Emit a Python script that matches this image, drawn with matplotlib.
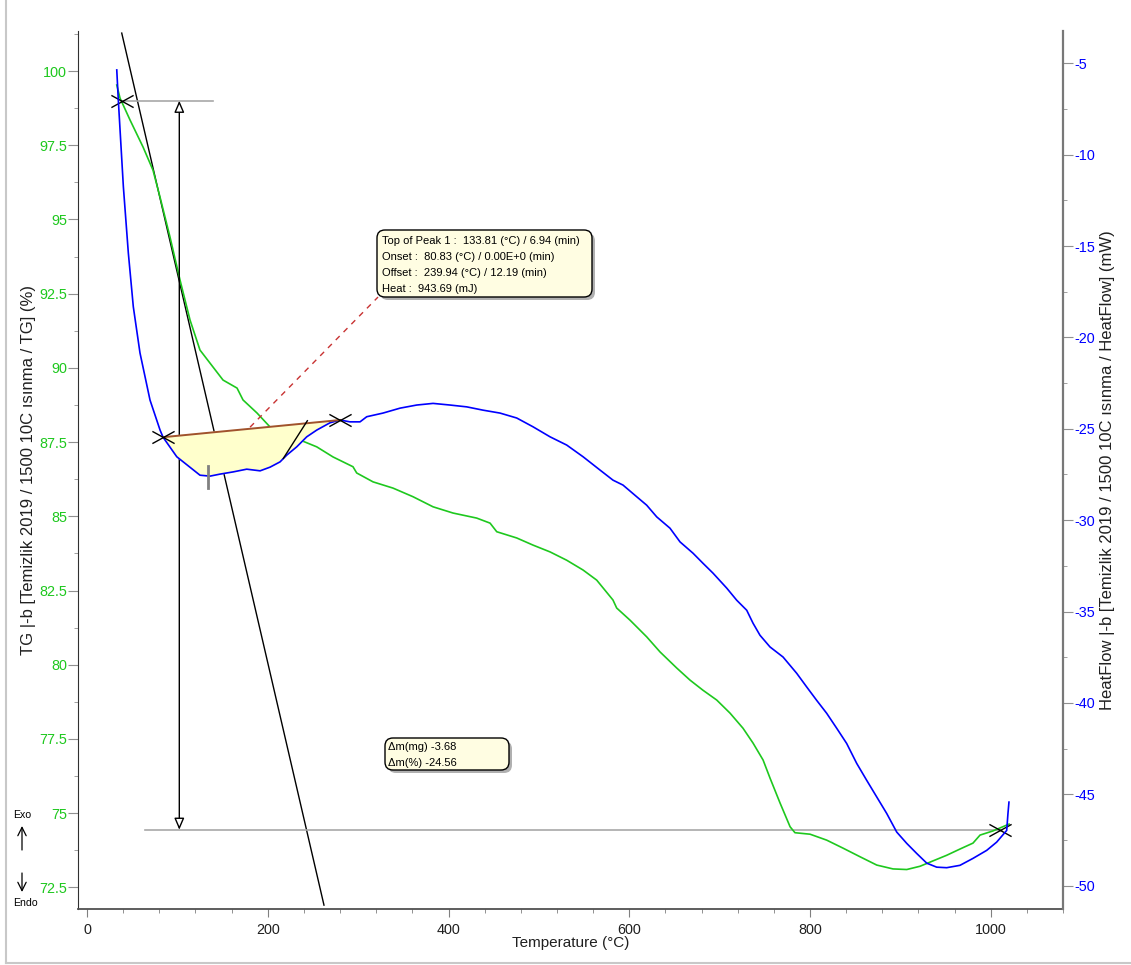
import numpy as np
import matplotlib.pyplot as plt
from matplotlib.patches import FancyBboxPatch, FancyArrowPatch
from matplotlib.path import Path
from matplotlib.lines import Line2D
from matplotlib.ticker import MultipleLocator, FuncFormatter
from matplotlib.transforms import IdentityTransform

# TG / DSC report: mass loss (green, left axis) and heat flow (blue, right axis)

plt.rcParams['font.family'] = ['Liberation Sans', 'DejaVu Sans']
plt.rcParams['axes.unicode_minus'] = False

W, H = 1131, 965

# TG curve (°C, %)
tg_temp = [32.9, 36.5, 47.6, 62.0, 73.0, 80.8, 91.8, 102.9, 114.0, 125.0, 136.1, 150.5,
           166.0, 172.6, 188.1, 202.5, 235.7, 254.2, 272.2, 294.3, 298.4, 316.5, 338.6,
           360.7, 382.9, 405.0, 431.2, 446.0, 453.4, 475.5, 493.5, 512.4, 530.8, 548.9,
           564.0, 582.0, 586.1, 600.9, 619.3, 634.1, 652.5, 667.3, 681.6, 696.8, 711.5,
           725.9, 737.0, 748.1, 755.8, 766.9, 778.0, 783.4, 800.1, 818.5, 836.6, 855.4,
           873.9, 891.9, 907.1, 921.8, 936.1, 951.3, 966.0, 980.4, 988.2, 1002.5, 1020.3]
tg_value = [99.53, 99.09, 98.35, 97.44, 96.66, 95.75, 94.41, 92.96, 91.61, 90.60, 90.16, 89.59,
            89.32, 88.92, 88.48, 88.01, 87.57, 87.34, 87.00, 86.67, 86.46, 86.16, 85.95,
            85.66, 85.32, 85.11, 84.94, 84.77, 84.48, 84.27, 84.03, 83.80, 83.52, 83.19,
            82.85, 82.18, 81.91, 81.50, 80.94, 80.43, 79.89, 79.48, 79.14, 78.81, 78.37,
            77.86, 77.36, 76.79, 76.18, 75.34, 74.54, 74.34, 74.29, 74.09, 73.82, 73.53,
            73.25, 73.12, 73.10, 73.21, 73.39, 73.58, 73.79, 73.99, 74.26, 74.40, 74.63]

# heat flow curve (°C, mW)
hf_temp = [32.9, 34.6, 40.2, 45.7, 51.2, 58.6, 69.7, 80.8, 84.1, 99.3, 125.0, 136.1, 147.2,
           161.6, 176.7, 191.5, 202.5, 213.6, 221.0, 232.0, 243.1, 254.2, 268.9, 280.0,
           291.0, 302.1, 309.5, 327.5, 346.4, 364.8, 382.9, 401.7, 420.2, 438.2, 457.0,
           475.5, 493.5, 512.4, 530.8, 548.9, 567.7, 582.0, 593.1, 608.3, 619.3, 630.4,
           645.1, 656.2, 670.6, 681.6, 692.7, 707.9, 718.9, 730.0, 737.0, 744.7, 755.8,
           770.2, 785.3, 796.4, 807.4, 818.5, 829.6, 840.6, 851.7, 862.8, 873.9, 884.9,
           896.0, 907.1, 918.1, 929.2, 940.2, 951.3, 966.0, 980.4, 995.6, 1006.6, 1017.7,
           1019.1, 1020.2]
hf_value = [-5.36, -7.00, -11.75, -15.38, -18.32, -20.85, -23.43, -25.07, -25.46, -26.53, -27.54,
            -27.59, -27.48, -27.36, -27.21, -27.30, -27.10, -26.81, -26.44, -25.99, -25.44,
            -25.07, -24.67, -24.52, -24.62, -24.62, -24.34, -24.14, -23.87, -23.70, -23.61,
            -23.70, -23.80, -23.98, -24.14, -24.41, -24.89, -25.44, -25.89, -26.53, -27.26,
            -27.81, -28.08, -28.72, -29.18, -29.82, -30.44, -31.19, -31.81, -32.36, -32.90,
            -33.72, -34.38, -34.93, -35.64, -36.30, -36.94, -37.49, -38.38, -39.13, -39.86,
            -40.57, -41.39, -42.22, -43.31, -44.24, -45.15, -46.05, -47.07, -47.69, -48.24,
            -48.77, -48.99, -49.02, -48.89, -48.51, -48.07, -47.62, -46.98, -46.05, -45.43]

# evaluation results
peak_start = (84.1, -25.46)
peak_end = (280.0, -24.52)
peak_top = 133.81
offset_tangent_t = [217.2, 243.8]
offset_tangent_hf = [-26.62, -24.56]
onset_tangent_t = [38.4, 262.2]
onset_tangent_tg = [101.28, 71.90]
mass_start = 99.0
mass_end = 74.44
mass_step_t = 102.1
mass_end_marker_t = 1010.3

peak_lines = ['Top of Peak 1 :  133.81 (°C) / 6.94 (min)',
              'Onset :  80.83 (°C) / 0.00E+0 (min)',
              'Offset :  239.94 (°C) / 12.19 (min)',
              'Heat :  943.69 (mJ)']
mass_lines = ['Δm(mg) -3.68', 'Δm(%) -24.56']

green = '#1ec81e'
blue = '#0000ff'

fig = plt.figure(figsize=(W / 100, H / 100), dpi=100)
ax = fig.add_axes([78 / W, 1 - 909 / H, (1063 - 78) / W, (909 - 31) / H])
ax2 = ax.twinx()

cross = Path([(-1, -0.55), (1, 0.55), (-1, 0.55), (1, -0.55)],
             [Path.MOVETO, Path.LINETO, Path.MOVETO, Path.LINETO])

# TG side
ax.plot(tg_temp, tg_value, color=green, lw=1.2, zorder=3)
ax.plot(onset_tangent_t, onset_tangent_tg, color='black', lw=1, zorder=2)
ax.plot([39.8, 139.4], [mass_start, mass_start], color='#a8a8a8', lw=1.2, zorder=2)
ax.plot([64, 1012], [mass_end, mass_end], color='#a8a8a8', lw=1.2, zorder=2)
arrow = FancyArrowPatch((mass_step_t, mass_start), (mass_step_t, mass_end),
                        arrowstyle='<|-|>,head_length=7,head_width=3', mutation_scale=1,
                        shrinkA=0, shrinkB=0, fc='white', ec='black', lw=1, zorder=4)
ax.add_patch(arrow)
ax.plot([38.4], [mass_start], marker=cross, ms=16, mfc='none', mec='black', mew=1, zorder=6)
ax.plot([mass_end_marker_t], [mass_end], marker=cross, ms=16, mfc='none', mec='black',
        mew=1, zorder=6)

# heat flow side
hf_t = np.array(hf_temp)
hf_v = np.array(hf_value)
sel = (hf_t >= peak_start[0]) & (hf_t <= peak_end[0])
ax2.fill(hf_t[sel], hf_v[sel], color='#ffffcc', zorder=1)
ax2.plot(hf_t, hf_v, color=blue, lw=1.2, zorder=3)
ax2.plot([peak_start[0], peak_end[0]], [peak_start[1], peak_end[1]], color='#a0522d',
         lw=1.4, zorder=4)
ax2.plot(offset_tangent_t, offset_tangent_hf, color='black', lw=1, zorder=4)
ax2.plot([peak_top, peak_top], [-27.04, -28.25], color='#808080', lw=2, zorder=4)
ax2.plot([180.4, 322.0], [-24.91, -17.79], color='#c83232', lw=1, ls=(0, (4, 4)), zorder=4)
ax2.plot([peak_start[0], peak_end[0]], [peak_start[1], peak_end[1]], ls='none',
         marker=cross, ms=16, mfc='none', mec='black', mew=1, zorder=6)

# axes styling
ax.set_xlim(-10, 1080)
ax.set_ylim(71.77, 101.35)
ax2.set_ylim(-51.28, -3.23)
ax.xaxis.set_major_locator(MultipleLocator(200))
ax.xaxis.set_minor_locator(MultipleLocator(40))
ax.yaxis.set_major_locator(MultipleLocator(2.5))
ax.yaxis.set_minor_locator(MultipleLocator(1.25))
ax2.yaxis.set_major_locator(MultipleLocator(5))
ax2.yaxis.set_minor_locator(MultipleLocator(2.5))
fmt = FuncFormatter(lambda v, p: f'{v:g}')
ax.yaxis.set_major_formatter(fmt)
ax2.yaxis.set_major_formatter(fmt)

ax.tick_params(axis='x', which='major', length=6, color='#808080', labelsize=10.4,
               labelcolor='#202020', pad=4)
ax.tick_params(axis='x', which='minor', length=3, color='#808080')
ax.tick_params(axis='y', which='major', length=7, color='#909090', labelsize=10.4,
               labelcolor=green, pad=1)
ax.tick_params(axis='y', which='minor', length=3, color='#909090')
ax2.tick_params(axis='y', which='major', length=7, color='#909090', labelsize=10.4,
                labelcolor=blue, pad=1.5)
ax2.tick_params(axis='y', which='minor', length=3, color='#909090')

for s in ['top', 'right']:
    ax.spines[s].set_visible(False)
for s in ['top', 'left', 'bottom']:
    ax2.spines[s].set_visible(False)
ax.spines['left'].set_color('#303030')
ax.spines['bottom'].set_color('#505050')
ax.spines['bottom'].set_linewidth(1.3)
ax2.spines['right'].set_color('#787878')
ax2.spines['right'].set_linewidth(1.6)

ax.set_xlabel('Temperature (°C)', fontsize=11, color='#202020')
ax.xaxis.set_label_coords(0.5, -0.031)
ax.set_ylabel('TG |-b [Temizlik 2019 / 1500 10C ısınma / TG] (%)', fontsize=12,
              color='#202020')
ax.yaxis.set_label_coords(-0.0426, 0.5)
ax2.set_ylabel('HeatFlow |-b [Temizlik 2019 / 1500 10C ısınma / HeatFlow] (mW)',
               fontsize=12, color='#202020')
ax2.yaxis.set_label_coords(1.0376, 0.5)


def add_box(left, top, right, bottom, lines, text_x, text_ys):
    # rounded result box with a drop shadow, placed in pixels
    shadow = FancyBboxPatch((left + 3, H - bottom - 3), right - left, bottom - top,
                            boxstyle='round,pad=0,rounding_size=8',
                            transform=IdentityTransform(), fc='#b0b0b0', ec='none',
                            zorder=5)
    box = FancyBboxPatch((left, H - bottom), right - left, bottom - top,
                         boxstyle='round,pad=0,rounding_size=8',
                         transform=IdentityTransform(), fc='#fffde2', ec='black',
                         lw=1, zorder=6)
    fig.add_artist(shadow)
    fig.add_artist(box)
    for line, y in zip(lines, text_ys):
        fig.text(text_x / W, 1 - y / H, line, fontsize=8, ha='left', va='center',
                 color='black', zorder=7)


add_box(377, 230, 592, 297, peak_lines, 381.5, [240.7, 257, 273, 289])
add_box(385, 738, 509, 770, mass_lines, 387.5, [746.7, 763.3])

# Exo / Endo hint
fig.text(21.7 / W, 1 - 815 / H, 'Exo', fontsize=7.6, ha='center', va='center')
fig.text(25 / W, 1 - 903 / H, 'Endo', fontsize=7.6, ha='center', va='center')
for y0, y1 in [(850, 826), (873, 892)]:
    fig.add_artist(FancyArrowPatch((22, H - y0), (22, H - y1),
                                   arrowstyle='->,head_length=6,head_width=3',
                                   mutation_scale=1, transform=IdentityTransform(),
                                   color='black', lw=0.9, shrinkA=0, shrinkB=0))

# light frame around the report
fig.add_artist(Line2D([6 / W, 6 / W], [1 - 963 / H, 1], color='#c8c8c8', lw=1.5))
fig.add_artist(Line2D([6 / W, 1], [1 - 963 / H, 1 - 963 / H], color='#c8c8c8', lw=1.5))

fig.savefig('out.png', dpi=100)
